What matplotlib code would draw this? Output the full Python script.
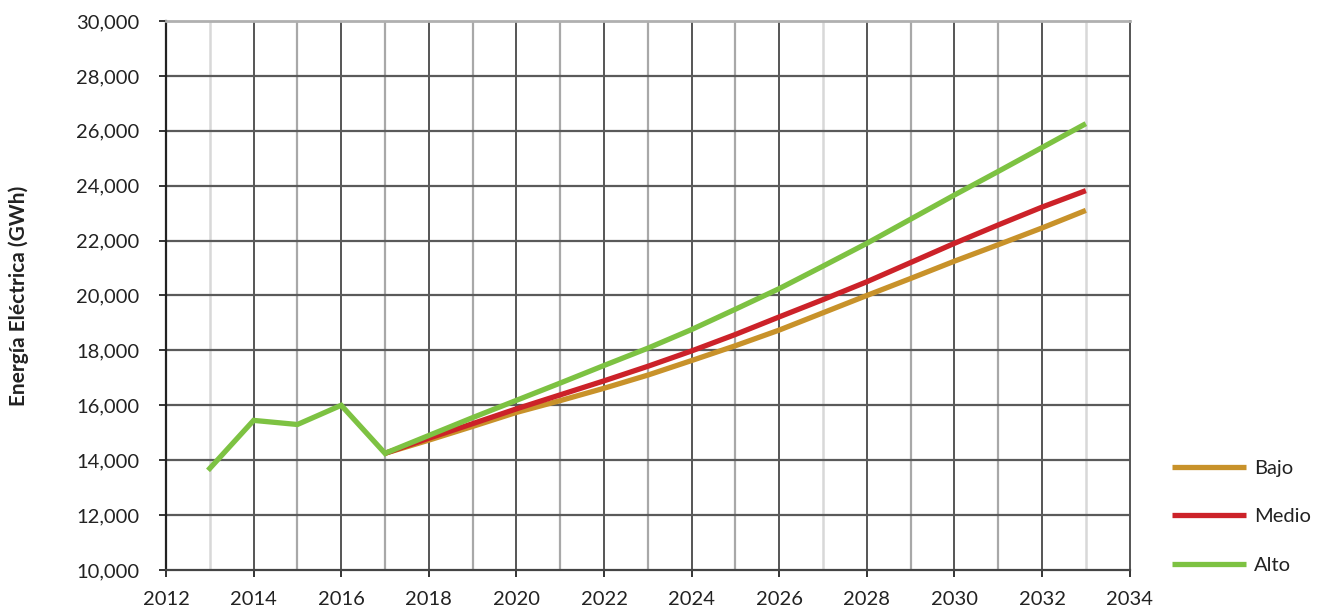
import matplotlib
matplotlib.use("Agg")
import matplotlib.pyplot as plt
from matplotlib.ticker import FuncFormatter, MultipleLocator

plt.rcParams['font.family'] = ['Lato', 'DejaVu Sans']

hist_years = [2013, 2014, 2015, 2016, 2017]
hist_values = [13700, 15450, 15300, 16000, 14250]

proj_years = list(range(2017, 2034))
bajo = [14250, 14730, 15230, 15740, 16170, 16620, 17100, 17630, 18170,
        18740, 19370, 20000, 20620, 21250, 21850, 22460, 23100]
medio = [14250, 14800, 15330, 15870, 16380, 16890, 17420, 17980, 18580,
         19220, 19850, 20500, 21200, 21900, 22570, 23220, 23820]
alto = [14250, 14900, 15550, 16180, 16810, 17450, 18080, 18760, 19500,
        20250, 21070, 21900, 22780, 23660, 24520, 25390, 26260]

series_names = ["Bajo", "Medio", "Alto"]
series_colors = ["#C8922A", "#CC2229", "#7DC242"]
ylabel = "Energía Eléctrica (GWh)"

fig = plt.figure(figsize=(13.29, 6.10), dpi=100)
ax = fig.add_axes([0.1249, 0.0656, 0.7251, 0.9])

ax.set_xlim(2012, 2034)
ax.set_ylim(10000, 30000)

# grid
light_years = {2013, 2027, 2033}
for yr in range(2013, 2034):
    if yr % 2 == 0:
        c, lw = "#555555", 1.4
    elif yr in light_years:
        c, lw = "#d8d8d8", 1.8
    else:
        c, lw = "#a8a8a8", 1.6
    ax.axvline(yr, color=c, lw=lw, zorder=0)
for v in range(12000, 30000, 2000):
    ax.axhline(v, color="#5a5a5a", lw=1.6, zorder=0)

ax.spines['top'].set_color("#b0b0b0")
ax.spines['top'].set_linewidth(2.0)
ax.spines['left'].set_color("#222222")
ax.spines['left'].set_linewidth(1.6)
ax.spines['bottom'].set_color("#444444")
ax.spines['bottom'].set_linewidth(1.6)
ax.spines['right'].set_color("#555555")
ax.spines['right'].set_linewidth(1.4)

lines = []
for name, vals, col in zip(series_names, [bajo, medio, alto], series_colors):
    ln, = ax.plot(proj_years, vals, color=col, lw=3.8, label=name, zorder=3,
                  solid_capstyle='butt')
    lines.append(ln)
ax.plot(hist_years, hist_values, color=series_colors[2], lw=3.8, zorder=4,
        solid_joinstyle='miter')

ax.xaxis.set_major_locator(MultipleLocator(2))
ax.yaxis.set_major_locator(MultipleLocator(2000))
ax.yaxis.set_major_formatter(FuncFormatter(lambda v, p: f"{int(v):,}"))
ax.tick_params(axis='both', direction='out', length=5, width=1.4,
               color="#333333", labelsize=14.5, labelcolor="#222222")
ax.tick_params(axis='x', pad=10)
ax.tick_params(axis='y', pad=14)

ax.set_ylabel(ylabel, fontsize=15, fontweight='bold', color="#222222")
ax.yaxis.set_label_coords(-0.142, 0.5)

leg = fig.legend(handles=lines, labels=series_names, loc='lower left',
                 bbox_to_anchor=(0.868, 0.03), frameon=False, fontsize=14.5,
                 handlelength=3.7, labelspacing=1.55, handletextpad=0.4)
for t in leg.get_texts():
    t.set_color("#222222")

fig.savefig("out.png", dpi=100)
